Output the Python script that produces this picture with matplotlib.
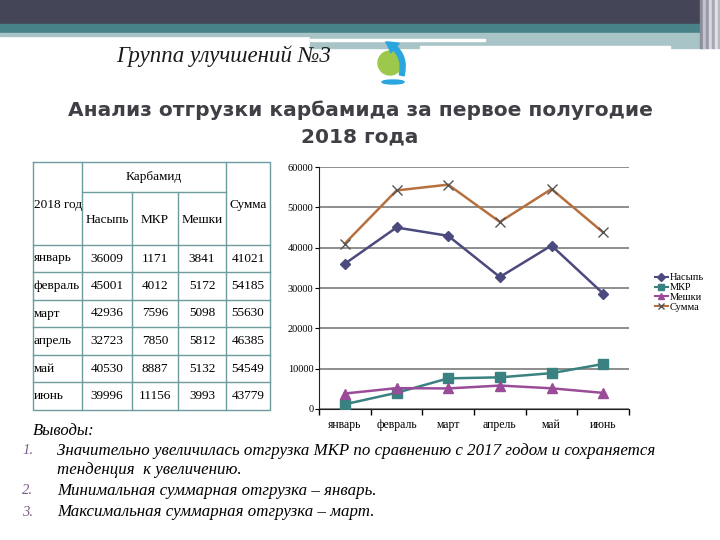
import matplotlib.pyplot as plt
from matplotlib.patches import Rectangle, Circle, Ellipse, FancyArrowPatch
from matplotlib.lines import Line2D

# ---- data ----
months = ["январь", "февраль", "март", "апрель", "май", "июнь"]
nasyp_table = [36009, 45001, 42936, 32723, 40530, 39996]
nasyp_chart = [36009, 45001, 42936, 32723, 40530, 28630]
mkr = [1171, 4012, 7596, 7850, 8887, 11156]
meshki = [3841, 5172, 5098, 5812, 5132, 3993]
summa = [41021, 54185, 55630, 46385, 54549, 43779]

series_names = ["Насыпь", "МКР", "Мешки", "Сумма"]
series_colors = ["#4b4a7e", "#3a8181", "#9b4c99", "#b5703e"]
series_markers = ["D", "s", "^", "x"]

conclusions = [
    ["Значительно увеличилась отгрузка МКР по сравнению с 2017 годом и сохраняется",
     "тенденция  к увеличению."],
    ["Минимальная суммарная отгрузка – январь."],
    ["Максимальная суммарная отгрузка – март."],
]

SERIF = ["Liberation Serif", "DejaVu Serif"]
W, H = 720, 540

fig = plt.figure(figsize=(7.2, 5.4), dpi=100)
fig.patch.set_facecolor("white")

# full-figure overlay in pixel coordinates
bg = fig.add_axes([0, 0, 1, 1])
bg.set_xlim(0, W)
bg.set_ylim(H, 0)
bg.axis("off")

# --- header bars ---
bg.add_patch(Rectangle((0, 0), W, 25, color="#454558", zorder=1))
bg.add_patch(Rectangle((0, 24), 705, 10, color="#468286", zorder=2))
bg.add_patch(Rectangle((0, 33), 310, 3, color="#a9c4c7", zorder=2))
bg.add_patch(Rectangle((310, 33), 395, 15, color="#a9c4c7", zorder=2))
bg.add_patch(Rectangle((310, 39), 175, 2, color="white", zorder=3))
bg.add_patch(Rectangle((420, 46), 250, 3, color="white", zorder=3))
for i, c in enumerate(["#8d8d9c", "#c4c4ce", "#9a9aa8", "#d8d8e0", "#a8a8b4", "#e0e0e6", "#b8b8c2"]):
    bg.add_patch(Rectangle((700 + i * 3, 0), 3, 48, color=c, zorder=4))

bg.text(224, 56, "Группа улучшений №3", family=SERIF, style="italic",
        fontsize=16.5, ha="center", va="center", color="#1a1a1a")

# --- logo ---
bg.add_patch(Ellipse((393, 82), 22, 4, color="#2aa6df", zorder=3))
bg.add_patch(Circle((390, 63), 12, color="#9cc84b", zorder=3))
bg.add_patch(FancyArrowPatch((401, 78), (383, 41), connectionstyle="arc3,rad=0.45",
                             arrowstyle="simple,head_width=9,head_length=8,tail_width=3.5",
                             color="#2aa6df", zorder=4))

# --- main title ---
bg.text(360, 110, "Анализ отгрузки карбамида за первое полугодие", fontsize=14.5,
        fontweight="bold", ha="center", va="center", color="#3f3f46")
bg.text(360, 137, "2018 года", fontsize=14.5, fontweight="bold",
        ha="center", va="center", color="#3f3f46")

# --- table ---
col_x = [33, 82, 132, 178, 226, 270]
row_y = [162, 192, 245, 272, 300, 327, 355, 382, 410]
lc = "#6c9c9e"
lw = 1.0
bg.plot([33, 270, 270, 33, 33], [162, 162, 410, 410, 162], color=lc, lw=lw)
bg.plot([82, 82], [162, 410], color=lc, lw=lw)
bg.plot([226, 226], [162, 410], color=lc, lw=lw)
for xv in col_x[2:4]:
    bg.plot([xv, xv], [192, 410], color=lc, lw=lw)
bg.plot([82, 226], [192, 192], color=lc, lw=lw)
for y in row_y[2:-1]:
    bg.plot([33, 270], [y, y], color=lc, lw=lw)

tfs = 9.5
bg.text(33.5, 205, "2018 год", family=SERIF, fontsize=tfs, ha="left", va="center")
bg.text(154, 177, "Карбамид", family=SERIF, fontsize=tfs, ha="center", va="center")
bg.text(248, 205, "Сумма", family=SERIF, fontsize=tfs, ha="center", va="center")
for name, x0, x1 in zip(series_names[:3], col_x[1:4], col_x[2:5]):
    bg.text((x0 + x1) / 2, 220, name, family=SERIF, fontsize=tfs, ha="center", va="center")

for i, m in enumerate(months):
    yc = (row_y[i + 2] + row_y[i + 3]) / 2
    bg.text(33.5, yc, m, family=SERIF, fontsize=tfs, ha="left", va="center")
    vals = [nasyp_table[i], mkr[i], meshki[i], summa[i]]
    for v, x0, x1 in zip(vals, col_x[1:5], col_x[2:6]):
        bg.text((x0 + x1) / 2, yc, str(v), family=SERIF, fontsize=tfs,
                ha="center", va="center")

# --- chart ---
ax = fig.add_axes([319 / W, 1 - 409 / H, (629 - 319) / W, (409 - 167) / H])
x = range(len(months))
data = [nasyp_chart, mkr, meshki, summa]
for vals, name, col, mk in zip(data, series_names, series_colors, series_markers):
    if mk == "x":
        ax.plot(x, vals, color=col, lw=1.8, marker="x", markersize=7,
                markeredgecolor="#555555", markeredgewidth=1.0, label=name, zorder=3)
    else:
        ms = 5 if mk == "D" else 6.5
        ax.plot(x, vals, color=col, lw=1.8, marker=mk, markersize=ms,
                markerfacecolor=col, markeredgecolor=col, label=name, zorder=3)

ax.set_xlim(-0.5, len(months) - 0.5)
ax.set_ylim(0, 60000)
ax.set_yticks(range(0, 60001, 10000))
ax.set_xticks(list(x))
ax.set_xticklabels(months, family=SERIF, fontsize=8.5, va="baseline")
ax.set_xticks([i - 0.5 for i in range(len(months) + 1)], minor=True)
ax.tick_params(axis="x", which="major", length=0, pad=14)
ax.tick_params(axis="x", which="minor", length=4, direction="out", width=1)
ax.tick_params(axis="y", length=3, direction="out", labelsize=7.5, pad=1)
for lab in ax.get_yticklabels():
    lab.set_family(SERIF)
ax.yaxis.grid(True, color="#7a7a7a", lw=1.2)
ax.set_axisbelow(True)
for s in ["top", "right"]:
    ax.spines[s].set_visible(False)
ax.spines["left"].set_color("#222222")
ax.spines["bottom"].set_color("#222222")
ax.set_facecolor("white")

handles = []
for name, col, mk in zip(series_names, series_colors, series_markers):
    if mk == "x":
        handles.append(Line2D([], [], color=col, lw=1.5, marker="x", markersize=5,
                              markeredgecolor="#555555", label=name))
    else:
        handles.append(Line2D([], [], color=col, lw=1.5, marker=mk, markersize=4,
                              label=name))
fig.legend(handles=handles, loc="upper left", bbox_to_anchor=(650 / W, 1 - 268 / H),
           frameon=False, prop={"family": SERIF, "size": 7.5}, handlelength=1.2,
           handletextpad=0.2, labelspacing=0.05, borderpad=0)

# --- conclusions ---
bg.text(33, 431, "Выводы:", family=SERIF, style="italic", fontsize=12,
        ha="left", va="center")
item_y = [451, 491, 512]
for i, (lines, y) in enumerate(zip(conclusions, item_y)):
    bg.text(22, y, f"{i + 1}.", family=SERIF, style="italic", fontsize=10.5,
            ha="left", va="center", color="#7a5a8a")
    for j, ln in enumerate(lines):
        bg.text(57, y + j * 19, ln, family=SERIF, style="italic", fontsize=12.2,
                ha="left", va="center")

fig.savefig("out.png", dpi=100)
plt.close(fig)
